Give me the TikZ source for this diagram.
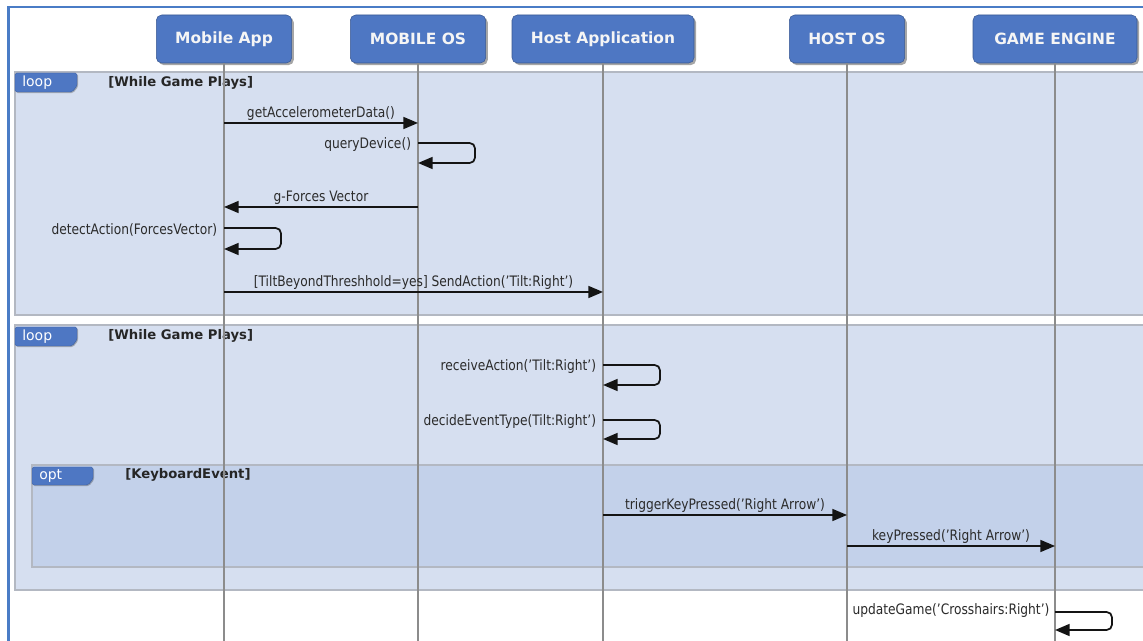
\documentclass[tikz,border=0pt]{standalone}
\usepackage{fontspec}
\setmainfont{DejaVu Sans}[FakeStretch=0.85]
\newfontfamily\hdrfont{DejaVu Sans}
\usetikzlibrary{arrows.meta,shadows}

\definecolor{hdrblue}{HTML}{4E77C3}
\definecolor{framefill}{HTML}{D6DFF0}
\definecolor{optfill}{HTML}{C3D1EA}
\definecolor{frameline}{HTML}{B3B8C2}
\definecolor{lifegray}{HTML}{8C8C8C}
\definecolor{msgtext}{HTML}{2B2B2B}
\definecolor{outerblue}{HTML}{4A7CC6}

\tikzset{
  participant/.style={draw=hdrblue!75!black, line width=0.4pt, fill=hdrblue,
    rounded corners=4pt, minimum height=36pt, text=white!96!black,
    font=\hdrfont\bfseries\fontsize{11.6}{14}\selectfont,
    drop shadow={shadow xshift=1.6pt, shadow yshift=-1.6pt, fill=black, opacity=0.35}},
  lifeline/.style={draw=lifegray, line width=1.4pt},
  loopframe/.style={draw=frameline, line width=1.1pt, fill=framefill},
  optframe/.style={draw=frameline, line width=1.1pt, fill=optfill},
  tabshape/.style={fill=hdrblue, draw=hdrblue!80!black, line width=0.3pt,
    drop shadow={shadow xshift=0.8pt, shadow yshift=-0.8pt, fill=black, opacity=0.25}},
  tablabel/.style={text=white, font=\hdrfont\fontsize{10.5}{12}\selectfont, anchor=west, inner sep=0pt},
  guard/.style={text=black!85, font=\hdrfont\bfseries\fontsize{9.9}{12}\selectfont, anchor=west, inner sep=0pt},
  msg/.style={draw=black!92, line width=1.3pt, -{Triangle[length=11pt,width=9pt]}},
  selfmsg/.style={msg, rounded corners=4pt},
  msglabel/.style={text=msgtext, font=\fontsize{10.8}{13}\selectfont, inner sep=1pt},
}

\begin{document}
\begin{tikzpicture}[x=0.75pt,y=-0.75pt]
\useasboundingbox (0,0) rectangle (1143,641);
\fill[white] (0,0) rectangle (1143,641);

% combined fragments
\draw[loopframe] (15,72) rectangle (1160,315);
\draw[loopframe] (15,325) rectangle (1160,590);
\draw[optframe] (32,465) rectangle (1160,567);

% fragment tabs and guards
\draw[tabshape, rounded corners=1.2pt] (15,73) -- (77,73) -- (77,86) -- (72,92) -- (15,92) -- cycle;
\node[tablabel] (tab1) at (22,82.5) {loop};
\node[guard] (guard1) at (108,83) {[While Game Plays]};

\draw[tabshape, rounded corners=1.2pt] (15,327) -- (77,327) -- (77,340) -- (72,346) -- (15,346) -- cycle;
\node[tablabel] (tab2) at (22,336.5) {loop};
\node[guard] (guard2) at (108,336) {[While Game Plays]};

\draw[tabshape, rounded corners=1.2pt] (32,467) -- (93,467) -- (93,479) -- (88,485) -- (32,485) -- cycle;
\node[tablabel] (tab3) at (39,476) {opt};
\node[guard] (guard3) at (125,475) {[KeyboardEvent]};

% participants
\node[participant, minimum width=101.5pt] (app)  at (224,39)  {Mobile App};
\node[participant, minimum width=101.5pt] (mos)  at (418,39)  {MOBILE OS};
\node[participant, minimum width=136.5pt] (host) at (603,39)  {Host Application};
\node[participant, minimum width=86.5pt]  (hos)  at (847,39)  {HOST OS};
\node[participant, minimum width=123pt]   (eng)  at (1055,39) {GAME ENGINE};

% lifelines
\foreach \p in {app,mos,host,hos,eng}{
  \coordinate (\p-end) at (\p.south |- 0,641);
  \draw[lifeline] (\p.south) -- (\p-end);
}

% outer border
\draw[outerblue, line width=1.6pt] (8.5,641) -- (8.5,7) -- (1143,7);

% messages, first loop
\draw[msg] (app |- 0,123) -- node[msglabel, above] {getAccelerometerData()} (mos |- 0,123);
\draw[selfmsg] (mos |- 0,143) -- ++(57,0) -- ++(0,20) -- (mos |- 0,163);
\node[msglabel, anchor=east, xshift=-4pt] at (mos |- 0,145) {queryDevice()};
\draw[msg] (mos |- 0,207) -- node[msglabel, above] {g-Forces Vector} (app |- 0,207);
\draw[selfmsg] (app |- 0,228) -- ++(57,0) -- ++(0,21) -- (app |- 0,249);
\node[msglabel, anchor=east, xshift=-4pt] at (app |- 0,230) {detectAction(ForcesVector)};
\draw[msg] (app |- 0,292) -- node[msglabel, above] {[TiltBeyondThreshhold=yes] SendAction('Tilt:Right')} (host |- 0,292);

% messages, second loop
\draw[selfmsg] (host |- 0,365) -- ++(57,0) -- ++(0,20) -- (host |- 0,385);
\node[msglabel, anchor=east, xshift=-4pt] at (host |- 0,367) {receiveAction('Tilt:Right')};
\draw[selfmsg] (host |- 0,420) -- ++(57,0) -- ++(0,19) -- (host |- 0,439);
\node[msglabel, anchor=east, xshift=-4pt] at (host |- 0,422) {decideEventType(Tilt:Right')};

% optional keyboard event
\draw[msg] (host |- 0,515) -- node[msglabel, above] {triggerKeyPressed('Right Arrow')} (hos |- 0,515);
\draw[msg] (hos |- 0,546) -- node[msglabel, above] {keyPressed('Right Arrow')} (eng |- 0,546);

% game update
\draw[selfmsg] (eng |- 0,612) -- ++(57,0) -- ++(0,18) -- (eng |- 0,630);
\node[msglabel, anchor=east, xshift=-3pt] at (eng |- 0,611) {updateGame('Crosshairs:Right')};
\end{tikzpicture}
\end{document}
